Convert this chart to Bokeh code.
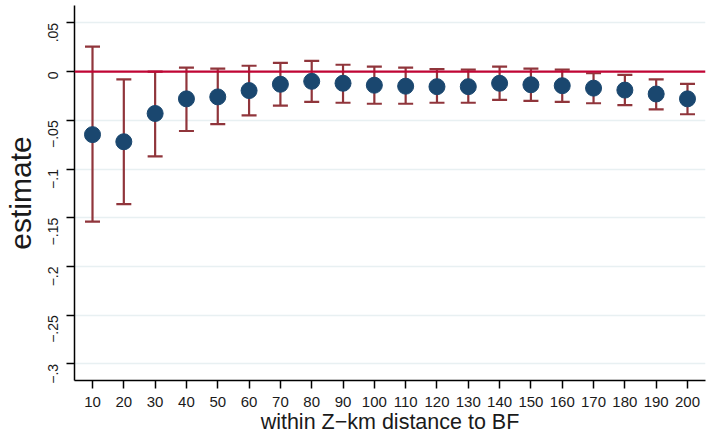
import math
from bokeh.plotting import figure
from bokeh.models import (ColumnDataSource, Whisker, TeeHead, Span, FixedTicker,
                          Range1d)
from bokeh.embed import file_html
from bokeh.resources import INLINE

# ---- data ----
distance = [10, 20, 30, 40, 50, 60, 70, 80, 90, 100,
            110, 120, 130, 140, 150, 160, 170, 180, 190, 200]
estimate = [-0.0647, -0.072, -0.043, -0.028, -0.026, -0.0195, -0.013, -0.010, -0.012, -0.014,
            -0.015, -0.0155, -0.0155, -0.012, -0.0135, -0.0145, -0.017, -0.019, -0.023, -0.028]
ci_upper = [0.0257, -0.008, 0.0, 0.004, 0.003, 0.006, 0.009, 0.011, 0.007, 0.005,
            0.004, 0.0025, 0.002, 0.005, 0.003, 0.002, -0.0017, -0.0034, -0.008, -0.0127]
ci_lower = [-0.154, -0.136, -0.087, -0.061, -0.054, -0.045, -0.035, -0.031, -0.032, -0.033,
            -0.033, -0.032, -0.032, -0.029, -0.030, -0.031, -0.0325, -0.0345, -0.0387, -0.0438]

y_ticks = [0.05, 0, -0.05, -0.1, -0.15, -0.2, -0.25, -0.3]
y_tick_labels = [".05", "0", "\u2212.05", "\u2212.1", "\u2212.15", "\u2212.2", "\u2212.25", "\u2212.3"]
x_ticks = distance

FONT = "Liberation Sans"
NAVY = "#1a476f"
MAROON = "#90353b"
CRANBERRY = "#c10534"
GRID = "#e8f0f2"

src = ColumnDataSource(dict(x=distance, y=estimate, lo=ci_lower, hi=ci_upper))

p = figure(width=718, height=439, output_backend="svg", toolbar_location=None,
           x_range=Range1d(4.25, 205.75), y_range=Range1d(-0.317, 0.0678),
           min_border_left=74, min_border_right=13, min_border_top=5, min_border_bottom=59)
p.outline_line_color = None
p.background_fill_color = "white"

# grid
p.xgrid.visible = False
p.ygrid.ticker = FixedTicker(ticks=y_ticks)
p.ygrid.grid_line_color = GRID
p.ygrid.grid_line_width = 1.5

# axes
p.xaxis.ticker = FixedTicker(ticks=x_ticks)
p.yaxis.ticker = FixedTicker(ticks=y_ticks)
p.yaxis.major_label_overrides = {t: l for t, l in zip(y_ticks, y_tick_labels)}
p.yaxis.major_label_orientation = math.pi / 2
for ax in (p.xaxis[0], p.yaxis[0]):
    ax.axis_line_color = "black"
    ax.axis_line_width = 1.5
    ax.major_tick_line_color = "black"
    ax.major_tick_line_width = 1.5
    ax.major_tick_out = 8
    ax.major_tick_in = 0
    ax.minor_tick_line_color = None
    ax.major_label_text_font = FONT
    ax.major_label_text_color = "#1a1a1a"
    ax.axis_label_text_font = FONT
    ax.axis_label_text_font_style = "normal"
    ax.axis_label_text_color = "#1a1a1a"
p.xaxis.major_label_text_font_size = "15px"
p.yaxis.major_label_text_font_size = "14px"
p.xaxis.major_label_standoff = 8
p.yaxis.major_label_standoff = 13
p.xaxis.axis_label = "within Z\u2212km distance to BF"
p.xaxis.axis_label_text_font_size = "21.5px"
p.xaxis.axis_label_standoff = 0
p.yaxis.axis_label = "estimate"
p.yaxis.axis_label_text_font_size = "30px"
p.yaxis.axis_label_standoff = 4

# error bars
wh = Whisker(base="x", upper="hi", lower="lo", source=src,
             line_color=MAROON, line_width=2.2, level="underlay",
             upper_head=TeeHead(size=15, line_color=MAROON, line_width=2.2),
             lower_head=TeeHead(size=15, line_color=MAROON, line_width=2.2))
p.add_layout(wh)

# zero line
p.add_layout(Span(location=0, dimension="width", line_color=CRANBERRY, line_width=2.2))

# points
p.scatter("x", "y", source=src, size=16, fill_color=NAVY, line_color=NAVY)

open("out.html", "w").write(file_html(p, INLINE))
